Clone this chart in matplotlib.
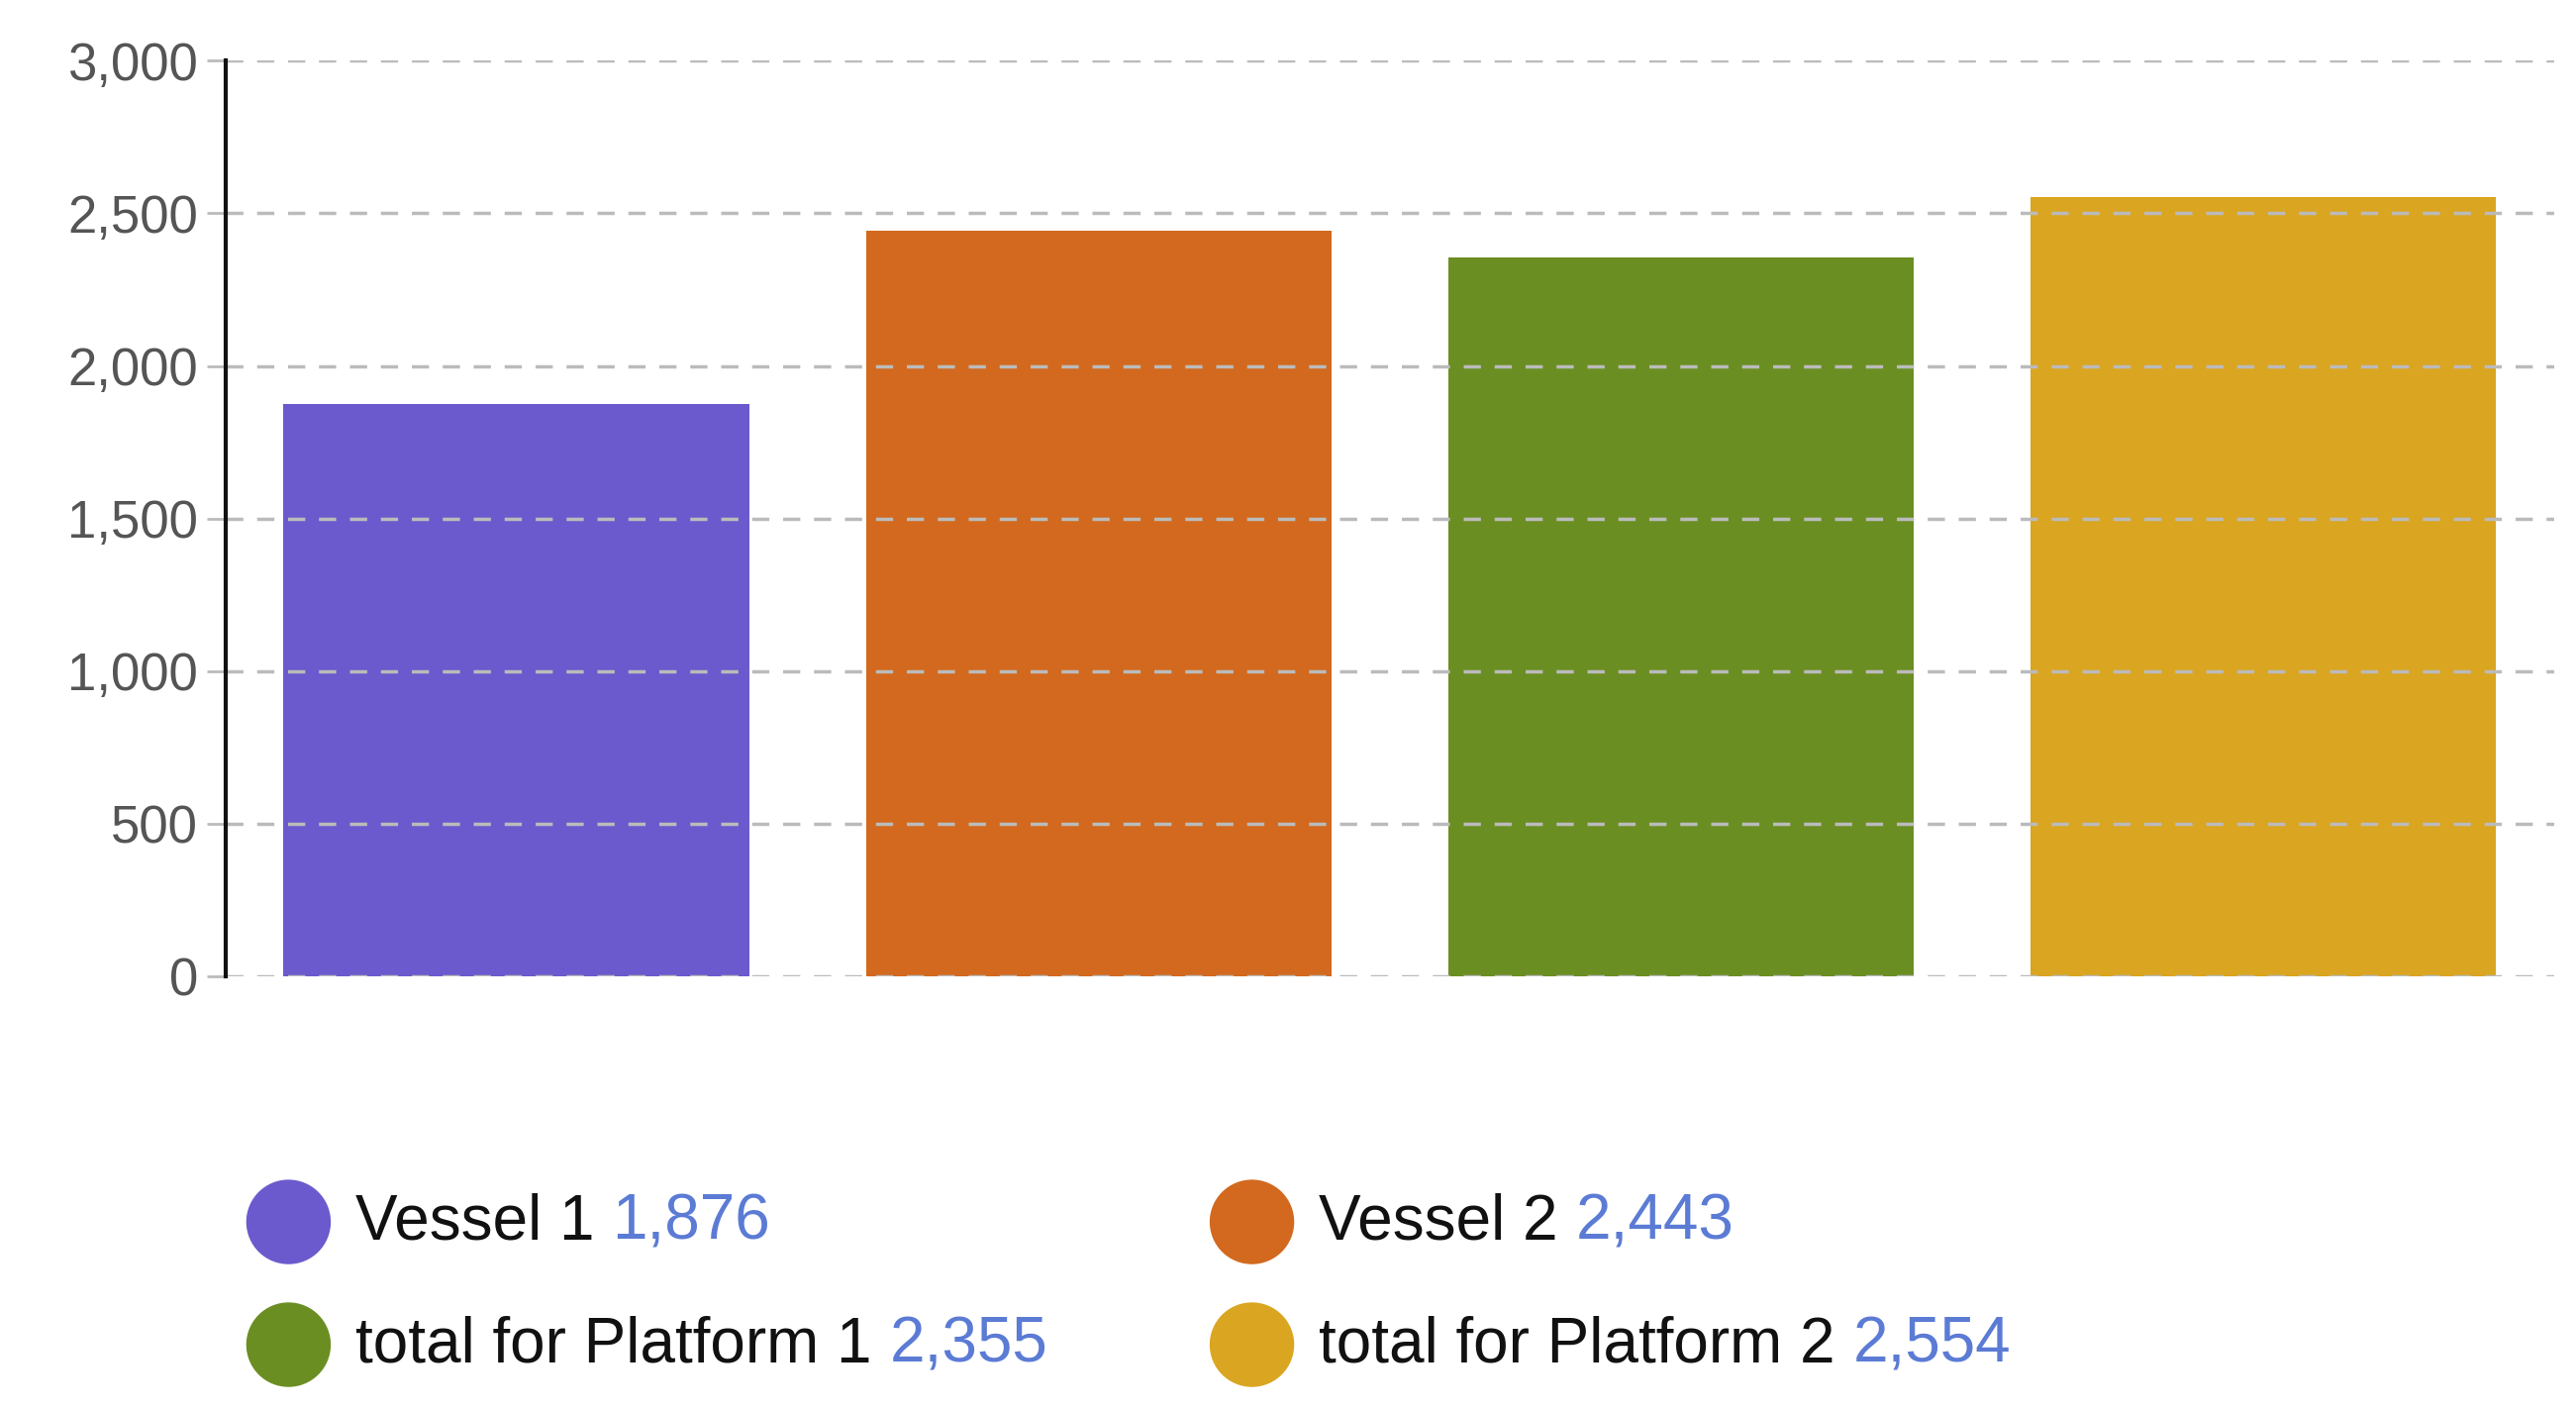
import matplotlib
matplotlib.use("Agg")
import matplotlib.pyplot as plt
from matplotlib.patches import Circle

categories = ["Vessel 1", "Vessel 2", "total for Platform 1", "total for Platform 2"]
values = [1876, 2443, 2355, 2554]
colors = ["#6a5acd", "#d2691e", "#6b8e23", "#daa520"]
yticks = [0, 500, 1000, 1500, 2000, 2500, 3000]

plt.rcParams['font.family'] = ['Liberation Sans', 'DejaVu Sans']
fig = plt.figure(figsize=(26.02, 14.25), dpi=100)
ax = fig.add_axes([0.0875, 0.308, 0.904, 0.649])
ax.bar(range(len(values)), values, width=0.8, color=colors, zorder=1)
ax.set_xlim(-0.5, 3.5)
ax.set_ylim(0, 3000)
ax.set_yticks(yticks)
ax.set_yticklabels([f"{v:,}" for v in yticks], fontsize=38, color="#555555")
ax.set_xticks([])
for v in yticks:
    ax.axhline(v, color="#bbbbbb", lw=2.5, ls=(0, (5, 4)), zorder=2)
for s in ["top", "right", "bottom"]:
    ax.spines[s].set_visible(False)
ax.spines["left"].set_linewidth(3)
ax.spines["left"].set_color("#111111")
ax.tick_params(axis="y", length=14, width=2, color="#bbbbbb", pad=6)

pos = [(0.112, 0.134), (0.486, 0.134), (0.112, 0.047), (0.486, 0.047)]
fig.canvas.draw()
r = fig.canvas.get_renderer()
W = fig.bbox.width
for (x, y), c, lab, v in zip(pos, colors, categories, values):
    fig.patches.append(Circle((x * W, y * fig.bbox.height), 42, transform=None, color=c))
    t = fig.text(x + 0.026, y, lab + " ", fontsize=46, color="#111111", va="center")
    bb = t.get_window_extent(r)
    fig.text(bb.x1 / W, y, f"{v:,}", fontsize=46, color="#5b7bd5", va="center")

fig.savefig("out.png", dpi=100)
